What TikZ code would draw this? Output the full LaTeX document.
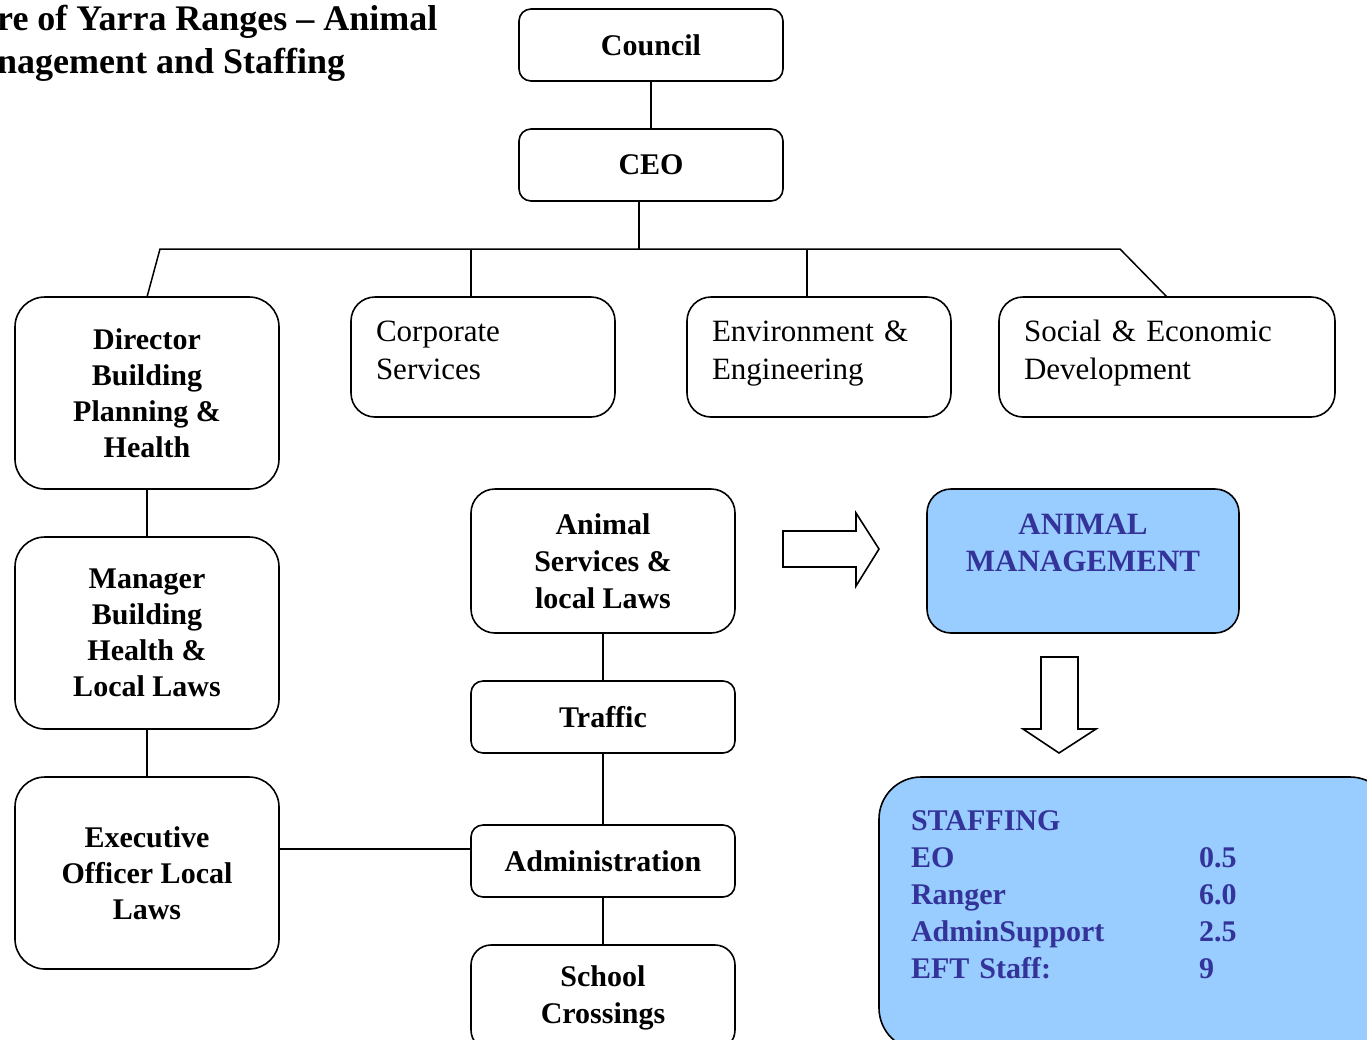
\documentclass[tikz,border=0pt]{standalone}
\usepackage{fontspec}
\newfontfamily\tnr{Liberation Serif}
\usetikzlibrary{positioning}
\definecolor{amFill}{HTML}{99CCFF}
\definecolor{amText}{HTML}{333399}
\newcommand{\staffRow}[2]{\makebox[288pt][l]{#1}#2}
\tikzset{
  orgbox/.style={draw, line width=1.6pt, rounded corners=#1, inner sep=0pt, outer sep=0pt, align=center},
  orgbox/.default=12pt,
  titleText/.style={font=\tnr\fontsize{36}{43}\selectfont\bfseries},
  headText/.style={font=\tnr\fontsize{30}{36}\selectfont\bfseries},
  tnrText/.style={font=\tnr\fontsize{30}{37}\selectfont\bfseries},
  tnrPlain/.style={font=\tnr\fontsize{31}{38}\selectfont, text depth=52pt},
  link/.style={line width=1.5pt},
  blockArrow/.style={line width=1.6pt, fill=white}
}
\begin{document}
\begin{tikzpicture}[x=1pt,y=-1pt]
\clip (0,0) rectangle (1367,1039);
%Titel ist links abgeschnitten
\node[titleText, anchor=north west, align=left, inner sep=0pt] (title) at (-3,5) {re of Yarra Ranges – Animal\\nagement and Staffing};

\node[orgbox, headText, minimum width=264pt, minimum height=72pt] (council) at (651,45) {Council};
\node[orgbox, headText, minimum width=264pt, minimum height=72pt, below=48pt of council] (ceo) {CEO};

%zweite Ebene
\node[orgbox=30pt, headText, minimum width=264pt, minimum height=192pt] (director) at (147,393) {Director\\Building\\Planning \&\\Health};
\node[orgbox=24pt, tnrPlain, minimum width=264pt, minimum height=120pt, text width=214pt, align=left] (corporate) at (483,357) {Corporate\\Services};
\node[orgbox=24pt, tnrPlain, minimum width=264pt, minimum height=120pt, text width=214pt, align=left] (environment) at (819,357) {Environment \&\\Engineering};
\node[orgbox=24pt, tnrPlain, minimum width=336pt, minimum height=120pt, text width=286pt, align=left] (social) at (1167,357) {Social \& Economic\\Development};

\node[orgbox=30pt, headText, minimum width=264pt, minimum height=192pt, below=48pt of director] (manager) {Manager\\Building\\Health \&\\Local Laws};
\node[orgbox=30pt, headText, minimum width=264pt, minimum height=192pt, below=48pt of manager] (executive) {Executive\\Officer Local\\Laws};

\node[orgbox=24pt, tnrText, minimum width=264pt, minimum height=144pt] (animalSvc) at (603,561) {Animal\\Services \&\\local Laws};
\node[orgbox, tnrText, minimum width=264pt, minimum height=72pt, below=48pt of animalSvc] (traffic) {Traffic};
\node[orgbox, tnrText, minimum width=264pt, minimum height=72pt, below=72pt of traffic] (admin) {Administration};
\node[orgbox=20pt, tnrText, minimum width=264pt, minimum height=105pt, below=48pt of admin] (school) {School\\Crossings};

%blaue Kaesten
\node[orgbox=24pt, fill=amFill, text=amText, font=\tnr\fontsize{31}{37}\selectfont\bfseries, minimum width=312pt, minimum height=144pt] (animalMgmt) at (1083,561) {ANIMAL\\MANAGEMENT\\\mbox{}};
\node[orgbox=42pt, fill=amFill, text=amText, tnrText, minimum width=513pt, minimum height=273pt, text width=449pt, align=left] (staffing) at (1135.5,913.5)
  {STAFFING\\\staffRow{EO}{0.5}\\\staffRow{Ranger}{6.0}\\\staffRow{AdminSupport}{2.5}\\\staffRow{EFT Staff:}{9}\\\mbox{}};

%Blockpfeile
\draw[blockArrow] (783,531) -- (856,531) -- (856,513) -- (879,549) -- (856,586) -- (856,567) -- (783,567) -- cycle;
\draw[blockArrow] (1041,657) -- (1078,657) -- (1078,729) -- (1096,729) -- (1059,753) -- (1023,729) -- (1041,729) -- cycle;

%Verbindungen
\coordinate (barL) at (160,249);
\coordinate (barR) at (1120,249);
\draw[link] ([xshift=-12pt]ceo.south) -- ([xshift=-12pt]ceo.south |- barL);
\draw[link] (director.north) -- (barL) -- (barR) -- (social.north);
\foreach \n in {corporate,environment}
  \draw[link] ([xshift=-12pt]\n.north) -- ([xshift=-12pt]\n.north |- barL);
\foreach \a/\b in {council/ceo,director/manager,manager/executive,animalSvc/traffic,traffic/admin,admin/school}
  \draw[link] (\a) -- (\b);
\draw[link] ([yshift=24pt]executive.east) -- ([yshift=12pt]admin.west);
\end{tikzpicture}
\end{document}
